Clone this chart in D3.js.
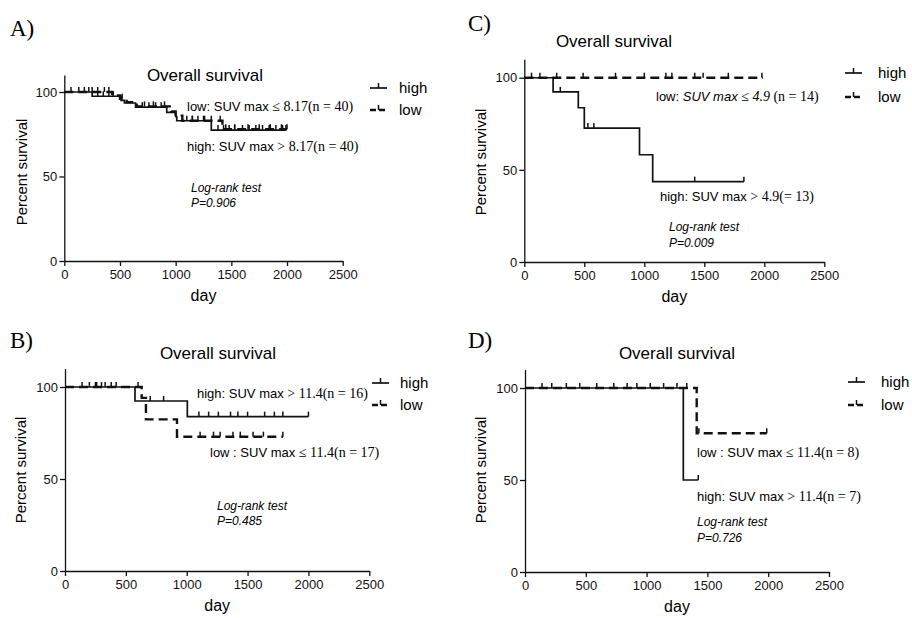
<!DOCTYPE html>
<html lang="en">
<head>
<meta charset="utf-8">
<title>Overall survival by SUV max</title>
<script src="https://d3js.org/d3.v7.min.js"></script>
<style type="text/css">
  body { margin: 0; background: #fff; }
  svg { font-family: "Liberation Sans", Arial, sans-serif; }
  .axis path, .axis line { stroke: #111; stroke-width: 1.3; }
  .axis text { font-size: 13px; fill: #111; font-family: "Liberation Sans", Arial, sans-serif; }
</style>
</head>
<body>
<svg id="chart" width="912" height="618"></svg>
<script type="text/javascript">
// axis ticks
var dayTicks = [0, 500, 1000, 1500, 2000, 2500];
var pctTicks = [0, 50, 100];
var seriesNames = ["high", "low"];

// A) cut-off 8.17 : [day, percent survival from that day]
var aHighSteps = [[0, 100], [250, 97.5], [510, 95], [540, 93.5], [640, 91], [920, 88], [1000, 85.5], [1010, 83], [1320, 77.5]];
var aHighEnd = 1990;
var aHighCensor = [60, 130, 180, 220, 300, 350, 400, 440, 700, 760, 820, 870, 1100, 1150, 1200, 1260, 1380, 1430, 1480, 1530, 1600, 1660, 1720, 1780, 1840, 1900, 1960, 1990];
var aLowSteps = [[0, 100], [430, 98], [500, 96], [560, 94], [650, 91.5], [960, 88.5], [1000, 86], [1060, 83], [1420, 78]];
var aLowEnd = 2000;
var aLowCensor = [250, 300, 360, 400, 520, 720, 800, 900, 1150, 1250, 1320, 1400, 1450, 1530, 1650, 1750, 1850, 1950, 2000];

// B) cut-off 11.4
var bHighSteps = [[0, 100], [575, 92.4], [1005, 83.9]];
var bHighEnd = 2000;
var bHighCensor = [140, 200, 260, 330, 420, 700, 810, 1100, 1180, 1260, 1360, 1420, 1500, 1640, 1720, 1790, 2000];
var bLowSteps = [[0, 100], [630, 94.1], [665, 82.4], [920, 73]];
var bLowEnd = 1790;
var bLowCensor = [250, 300, 380, 600, 1110, 1220, 1275, 1380, 1440, 1545, 1630, 1790];

// C) cut-off 4.9
var cHighSteps = [[0, 100], [240, 92.3], [450, 83.7], [500, 72.7], [960, 58.2], [1070, 43.6]];
var cHighEnd = 1830;
var cHighCensor = [300, 530, 580, 1420, 1830];
var cLowSteps = [[0, 100]];
var cLowEnd = 1990;
var cLowCensor = [60, 130, 270, 490, 760, 1000, 1180, 1230, 1420, 1490, 1700, 1980];

// D) cut-off 11.4
var dHighSteps = [[0, 100], [1302, 50]];
var dHighEnd = 1425;
var dHighCensor = [220, 450, 730, 920, 1140, 1250, 1425];
var dLowSteps = [[0, 100], [1412, 75.4]];
var dLowEnd = 1988;
var dLowCensor = [140, 340, 590, 840, 1030, 1330, 1430, 1988];

// annotation texts: [text, style] s = sans, si = sans italic, r = serif, ri = serif italic
var aNotes = [[["low: SUV max ", "s"], ["\u2264 8.17(n = 40)", "r"]], [["high: SUV max ", "s"], ["> 8.17(n = 40)", "r"]]];
var bNotes = [[["high: SUV max ", "s"], ["> 11.4(n = 16)", "r"]], [["low : SUV max ", "s"], ["\u2264 11.4(n = 17)", "r"]]];
var cNotes = [[["low: ", "s"], ["SUV max ", "si"], ["\u2264 ", "r"], ["4.9", "ri"], [" (n = 14)", "r"]], [["high: SUV max ", "s"], ["> 4.9(= 13)", "r"]]];
var dNotes = [[["low : SUV max ", "s"], ["\u2264 11.4(n = 8)", "r"]], [["high: SUV max ", "s"], ["> 11.4(n = 7)", "r"]]];
var testLabels = ["Log-rank test", "P=0.906", "P=0.485", "P=0.009", "P=0.726"];

// panel layout (pixels only)
var panels = [
  { tag: "A)", tagX: 10, tagY: 36, x0: 64.3, x1: 342.7, y0: 261, yTop: 75.1, titleX: 205, titleY: 81, ylabX: 27, ylabY: 172,
    notes: aNotes, noteX: [187, 187], noteY: [110.5, 150.5], testX: 191, testY: [192, 207], pval: testLabels[1],
    legX: 370, legY: [88, 110], legTextX: 399,
    high: [aHighSteps, aHighEnd, aHighCensor], low: [aLowSteps, aLowEnd, aLowCensor] },
  { tag: "B)", tagX: 10, tagY: 348, x0: 65, x1: 369.3, y0: 571, yTop: 368.6, titleX: 218, titleY: 359, ylabX: 26, ylabY: 470,
    notes: bNotes, noteX: [197, 210], noteY: [398, 457], testX: 217, testY: [510, 525], pval: testLabels[2],
    legX: 372, legY: [383, 405], legTextX: 400,
    high: [bHighSteps, bHighEnd, bHighCensor], low: [bLowSteps, bLowEnd, bLowCensor] },
  { tag: "C)", tagX: 468, tagY: 31, x0: 524.3, x1: 824.3, y0: 262, yTop: 59.3, titleX: 614, titleY: 47, ylabX: 486, ylabY: 162,
    notes: cNotes, noteX: [656, 660], noteY: [101, 200.5], testX: 669, testY: [231, 246.5], pval: testLabels[3],
    legX: 845, legY: [73, 97], legTextX: 878,
    high: [cHighSteps, cHighEnd, cHighCensor], low: [cLowSteps, cLowEnd, cLowCensor] },
  { tag: "D)", tagX: 468, tagY: 348, x0: 525, x1: 829, y0: 572, yTop: 369.6, titleX: 677, titleY: 359, ylabX: 486, ylabY: 470,
    notes: dNotes, noteX: [697, 697], noteY: [456.5, 500.5], testX: 697, testY: [526, 542], pval: testLabels[4],
    legX: 848, legY: [382, 405], legTextX: 881,
    high: [dHighSteps, dHighEnd, dHighCensor], low: [dLowSteps, dLowEnd, dLowCensor] }
];

var svg = d3.select("#chart");
svg.append("rect").attr("width", 912).attr("height", 618).attr("fill", "#fff");

var fonts = {
  s: ["Liberation Sans", "normal"], si: ["Liberation Sans", "italic"],
  r: ["Liberation Serif", "normal"], ri: ["Liberation Serif", "italic"]
};

function survAt(steps, t) {
  var v = 100;
  steps.forEach(function(s) { if (s[0] <= t) v = s[1]; });
  return v;
}

panels.forEach(function(p) {
  var xScale = d3.scaleLinear().domain([0, 2500]).range([p.x0, p.x1]);
  var yScale = d3.scaleLinear().domain([0, 110]).range([p.y0, p.yTop]);
  var g = svg.append("g");

  // axes
  g.append("g").attr("class", "axis")
    .attr("transform", "translate(0," + p.y0 + ")")
    .call(d3.axisBottom(xScale).tickValues(dayTicks).tickFormat(d3.format("d"))
      .tickSize(5).tickSizeOuter(0).tickPadding(4));
  g.append("g").attr("class", "axis")
    .attr("transform", "translate(" + p.x0 + ",0)")
    .call(d3.axisLeft(yScale).tickValues(pctTicks).tickFormat(d3.format("d"))
      .tickSize(5).tickSizeOuter(0).tickPadding(2));

  // curves
  var line = d3.line()
    .x(function(d) { return xScale(d[0]); })
    .y(function(d) { return yScale(d[1]); })
    .curve(d3.curveStepAfter);

  seriesNames.forEach(function(name) {
    var s = p[name];
    var pts = s[0].concat([[s[1], s[0][s[0].length - 1][1]]]);
    var dashed = name === "low";
    g.append("path")
      .datum(pts)
      .attr("d", line)
      .attr("fill", "none")
      .attr("stroke", "#111")
      .attr("stroke-width", dashed ? 2.4 : 1.7)
      .attr("stroke-dasharray", dashed ? "9,5" : null);
    g.selectAll(null)
      .data(s[2])
      .enter()
      .append("line")
      .attr("x1", function(d) { return xScale(d); })
      .attr("x2", function(d) { return xScale(d); })
      .attr("y1", function(d) { return yScale(survAt(s[0], d)); })
      .attr("y2", function(d) { return yScale(survAt(s[0], d)) - 5; })
      .attr("stroke", "#111")
      .attr("stroke-width", 1.5);
  });

  // panel tag
  g.append("text").attr("x", p.tagX).attr("y", p.tagY)
    .attr("font-family", "Liberation Serif").attr("font-size", 23).text(p.tag);

  // title and axis labels
  g.append("text").attr("x", p.titleX).attr("y", p.titleY)
    .attr("text-anchor", "middle").attr("font-size", 17).text("Overall survival");
  g.append("text").attr("x", (p.x0 + p.x1) / 2).attr("y", p.y0 + 40)
    .attr("text-anchor", "middle").attr("font-size", 16).text("day");
  g.append("text")
    .attr("transform", "translate(" + p.ylabX + "," + p.ylabY + ") rotate(-90)")
    .attr("text-anchor", "middle").attr("font-size", 15).text("Percent survival");

  // annotations
  p.notes.forEach(function(parts, i) {
    var t = g.append("text").attr("x", p.noteX[i]).attr("y", p.noteY[i]).attr("font-size", 13);
    parts.forEach(function(part) {
      t.append("tspan").text(part[0])
        .attr("font-family", fonts[part[1]][0])
        .attr("font-style", fonts[part[1]][1])
        .attr("font-size", part[1].charAt(0) === "r" ? 14 : 13);
    });
  });
  g.append("text").attr("x", p.testX).attr("y", p.testY[0])
    .attr("font-size", 12).attr("font-style", "italic").text(testLabels[0]);
  g.append("text").attr("x", p.testX).attr("y", p.testY[1])
    .attr("font-size", 12).attr("font-style", "italic").text(p.pval);

  // legend
  seriesNames.forEach(function(name, i) {
    var ly = p.legY[i];
    var dashed = name === "low";
    g.append("line").attr("x1", p.legX).attr("x2", p.legX + 17).attr("y1", ly).attr("y2", ly)
      .attr("stroke", "#111").attr("stroke-width", dashed ? 2.6 : 1.7)
      .attr("stroke-dasharray", dashed ? "6,3" : null);
    g.append("line").attr("x1", p.legX + 8.5).attr("x2", p.legX + 8.5).attr("y1", ly).attr("y2", ly - 5)
      .attr("stroke", "#111").attr("stroke-width", 1.5);
    g.append("text").attr("x", p.legTextX).attr("y", ly + 5)
      .attr("font-size", 15).text(name);
  });
});
</script>
</body>
</html>
